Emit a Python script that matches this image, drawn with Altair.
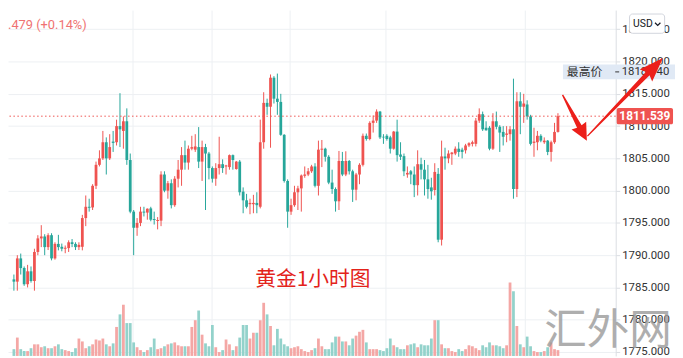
import altair as alt
import pandas as pd

# ---------------- data ----------------
opens = [1786.25, 1785.9, 1789.5, 1788.0, 1785.5, 1787.5, 1786.0, 1790.5, 1792.6, 1792.9,
         1791.25, 1793.1, 1789.5, 1791.75, 1791.3, 1791.0, 1791.1, 1792.0, 1791.75, 1791.25,
         1791.3, 1795.75, 1797.5, 1797.4, 1800.75, 1804.0, 1805.0, 1807.5, 1805.0, 1807.6,
         1807.5, 1810.0, 1809.25, 1810.75, 1804.75, 1796.75, 1794.25, 1795.0, 1796.75, 1796.6,
         1797.25, 1795.6, 1795.3, 1795.35, 1802.5, 1800.0, 1801.15, 1797.75, 1801.85, 1803.25,
         1805.5, 1804.35, 1806.5, 1806.35, 1806.75, 1804.5, 1806.75, 1805.75, 1803.5, 1801.85,
         1803.5, 1804.1, 1803.75, 1803.65, 1805.5, 1803.35, 1804.5, 1799.85, 1798.5, 1797.9,
         1797.9, 1798.1, 1797.5, 1807.5, 1813.6, 1813.0, 1817.5, 1814.25, 1813.75, 1808.65,
         1801.5, 1796.75, 1797.75, 1799.75, 1800.35, 1802.3, 1802.5, 1803.0, 1803.75, 1800.75,
         1806.35, 1806.5, 1805.25, 1801.25, 1800.25, 1798.35, 1804.6, 1802.5, 1804.6, 1803.0,
         1800.15, 1802.5, 1804.0, 1808.5, 1808.0, 1810.5, 1810.85, 1812.25, 1808.35, 1808.5,
         1808.25, 1806.5, 1809.15, 1805.6, 1805.35, 1802.5, 1803.0, 1802.5, 1800.85, 1804.1,
         1803.25, 1801.75, 1800.5, 1800.1, 1802.6, 1792.4, 1805.3, 1805.0, 1805.65, 1805.75,
         1806.5, 1806.35, 1806.25, 1807.0, 1807.25, 1807.25, 1810.85, 1811.85, 1809.75, 1809.75,
         1806.5, 1810.75, 1809.9, 1809.1, 1808.65, 1808.75, 1809.5, 1800.25, 1813.85, 1813.0,
         1813.35, 1811.5, 1807.4, 1807.5, 1808.5, 1807.5, 1807.75, 1806.0, 1807.5, 1809.1]

highs = [1787.0, 1790.0, 1790.25, 1788.25, 1788.5, 1788.25, 1791.0, 1793.1, 1794.65, 1793.25,
         1793.4, 1793.4, 1792.0, 1793.15, 1791.8, 1791.5, 1792.3, 1792.5, 1792.0, 1792.0,
         1796.25, 1799.25, 1798.75, 1801.0, 1804.5, 1806.25, 1809.25, 1808.25, 1808.75, 1809.25,
         1811.0, 1815.1, 1811.5, 1812.75, 1805.75, 1797.0, 1795.75, 1797.5, 1797.5, 1797.25,
         1797.5, 1796.75, 1795.9, 1803.0, 1803.0, 1801.5, 1801.75, 1802.25, 1804.75, 1806.75,
         1807.75, 1807.0, 1808.5, 1808.75, 1809.85, 1807.75, 1807.25, 1806.0, 1803.75, 1804.25,
         1808.35, 1804.85, 1804.0, 1805.6, 1805.6, 1804.6, 1804.75, 1800.5, 1799.5, 1798.75,
         1799.35, 1799.75, 1811.0, 1815.25, 1814.25, 1818.0, 1817.75, 1818.14, 1815.0, 1808.75,
         1801.75, 1798.75, 1800.75, 1800.75, 1802.5, 1803.75, 1803.5, 1804.0, 1804.25, 1807.75,
         1807.85, 1806.65, 1805.5, 1803.25, 1800.5, 1806.15, 1806.0, 1806.1, 1804.75, 1803.25,
         1802.75, 1804.25, 1808.85, 1808.85, 1810.75, 1811.65, 1812.6, 1812.35, 1808.75, 1808.75,
         1808.5, 1809.25, 1811.0, 1807.5, 1805.75, 1803.75, 1803.2, 1803.75, 1806.25, 1805.1,
         1804.75, 1804.0, 1802.0, 1804.25, 1803.5, 1807.75, 1806.65, 1806.25, 1806.0, 1806.85,
         1807.5, 1806.65, 1807.25, 1807.5, 1807.75, 1811.25, 1812.75, 1812.25, 1810.75, 1810.0,
         1812.0, 1812.25, 1810.15, 1810.0, 1810.0, 1810.0, 1817.35, 1815.25, 1815.25, 1815.0,
         1814.0, 1811.75, 1809.75, 1809.25, 1808.75, 1808.25, 1807.85, 1807.75, 1810.5, 1812.0]

lows = [1784.5, 1784.5, 1787.0, 1785.25, 1785.0, 1785.75, 1784.5, 1790.0, 1791.25, 1790.0,
        1790.8, 1789.2, 1789.3, 1790.75, 1790.6, 1790.3, 1790.5, 1791.25, 1790.8, 1790.8,
        1790.75, 1794.5, 1796.75, 1797.0, 1800.25, 1803.75, 1804.75, 1802.5, 1804.75, 1806.0,
        1807.0, 1806.75, 1806.5, 1804.0, 1796.5, 1790.0, 1793.0, 1794.5, 1796.0, 1795.5,
        1795.25, 1794.75, 1794.0, 1794.5, 1799.75, 1798.75, 1797.25, 1797.5, 1800.5, 1800.75,
        1803.25, 1803.25, 1806.25, 1806.0, 1803.5, 1801.5, 1797.0, 1801.75, 1801.25, 1800.75,
        1802.5, 1802.75, 1802.5, 1803.25, 1803.25, 1803.25, 1799.25, 1796.5, 1797.25, 1796.35,
        1796.5, 1796.5, 1797.25, 1806.5, 1811.75, 1806.65, 1813.5, 1811.75, 1808.5, 1801.25,
        1794.25, 1796.25, 1797.5, 1797.0, 1796.75, 1802.0, 1802.25, 1802.75, 1800.5, 1799.25,
        1803.65, 1804.5, 1801.0, 1799.5, 1796.75, 1797.0, 1802.25, 1802.25, 1802.5, 1798.25,
        1798.5, 1801.0, 1803.75, 1807.75, 1807.8, 1809.0, 1810.5, 1808.0, 1807.25, 1807.75,
        1805.75, 1806.35, 1804.5, 1804.75, 1802.25, 1802.0, 1801.0, 1799.0, 1799.25, 1801.75,
        1799.25, 1798.75, 1798.6, 1799.25, 1792.0, 1791.5, 1803.25, 1804.25, 1804.0, 1805.5,
        1805.25, 1805.0, 1805.75, 1806.75, 1806.85, 1806.85, 1810.5, 1809.25, 1809.3, 1806.25,
        1806.3, 1809.5, 1806.0, 1807.0, 1807.5, 1807.75, 1798.75, 1799.0, 1808.75, 1810.5,
        1811.0, 1807.0, 1805.25, 1806.25, 1807.5, 1807.25, 1805.5, 1804.5, 1807.25, 1809.0]

closes = [1785.9, 1789.5, 1788.0, 1785.5, 1787.5, 1786.0, 1790.5, 1792.6, 1792.9, 1791.25,
          1793.1, 1789.5, 1791.75, 1791.25, 1791.0, 1791.15, 1792.0, 1791.75, 1791.25, 1791.6,
          1795.75, 1797.5, 1797.35, 1800.75, 1804.0, 1805.0, 1807.5, 1805.0, 1806.75, 1807.4,
          1810.0, 1809.5, 1810.75, 1804.75, 1796.75, 1794.25, 1795.0, 1796.75, 1796.6, 1797.2,
          1795.5, 1795.45, 1795.45, 1802.5, 1800.0, 1801.15, 1797.75, 1801.85, 1803.25, 1805.5,
          1804.35, 1806.5, 1806.75, 1806.85, 1804.5, 1806.75, 1805.75, 1803.5, 1801.85, 1803.5,
          1804.1, 1803.5, 1803.9, 1805.5, 1804.75, 1804.5, 1799.75, 1798.5, 1797.5, 1798.1,
          1798.1, 1797.75, 1807.5, 1813.6, 1813.0, 1817.5, 1814.25, 1813.75, 1808.65, 1801.5,
          1796.75, 1797.75, 1799.75, 1800.35, 1802.35, 1802.5, 1803.0, 1803.75, 1800.75, 1806.35,
          1806.5, 1805.25, 1801.25, 1800.25, 1798.35, 1804.6, 1802.5, 1804.6, 1803.0, 1800.15,
          1802.5, 1804.0, 1808.5, 1808.0, 1810.5, 1810.85, 1812.25, 1808.25, 1808.25, 1808.0,
          1806.5, 1809.15, 1805.5, 1805.25, 1803.0, 1802.75, 1802.5, 1800.85, 1804.1, 1803.25,
          1801.75, 1800.25, 1799.9, 1802.9, 1792.4, 1805.3, 1805.0, 1805.75, 1805.9, 1806.5,
          1806.0, 1806.0, 1807.0, 1807.35, 1807.5, 1810.85, 1811.85, 1809.5, 1809.35, 1806.5,
          1810.75, 1809.9, 1809.0, 1808.35, 1808.85, 1809.5, 1800.25, 1813.85, 1813.0, 1813.5,
          1811.5, 1807.25, 1807.6, 1808.5, 1807.75, 1807.75, 1806.0, 1807.5, 1809.1, 1811.539]

volumes = [7, 19, 7, 5, 5, 8, 12, 12, 9, 10, 8, 8, 10, 12, 7, 6, 5, 4, 8, 18,
           15, 8, 10, 12, 17, 16, 18, 12, 10, 13, 30, 43, 53, 34, 34, 14, 9, 6, 4, 6,
           9, 18, 7, 8, 10, 12, 13, 14, 11, 10, 10, 10, 30, 37, 47, 22, 13, 10, 32, 9,
           4, 6, 17, 12, 6, 10, 19, 32, 32, 18, 24, 24, 37, 55, 43, 31, 11, 28, 18, 12,
           10, 8, 9, 10, 7, 5, 4, 6, 8, 18, 10, 7, 7, 14, 20, 20, 15, 15, 11, 18,
           21, 25, 27, 14, 7, 7, 7, 6, 5, 8, 18, 11, 9, 7, 7, 11, 12, 13, 9, 12,
           11, 11, 18, 37, 37, 12, 8, 8, 5, 4, 7, 5, 7, 11, 10, 8, 6, 11, 9, 14,
           11, 11, 10, 8, 11, 76, 67, 31, 12, 9, 20, 10, 5, 4, 4, 5, 9, 14, 7, 6]

price_ticks = [1775, 1780, 1785, 1790, 1795, 1800, 1805, 1810, 1815, 1820, 1825]
time_grid = [34.8, 57.9, 80.6, 108.7, 149.4]
last_price = 1811.539
high_price = 1818.140
high_label = "最高价"
top_text = ".479 (+0.14%)"
title_text = "黄金1小时图"
watermark_text = "汇外网"
currency = "USD"

# ---------------- styling ----------------
UP, DOWN = "#ef5350", "#26a69a"
UP_VOL, DOWN_VOL = "#f4a7a5", "#93d2cb"
GRID = "#edf0f3"
ARROW = "#ec1f1a"
W, H = 615, 350

df = pd.DataFrame({"i": list(range(len(closes))), "open": opens, "high": highs,
                   "low": lows, "close": closes, "vol": volumes})
up = df["close"] >= df["open"]
df["c"] = up.map({True: UP, False: DOWN})
df["vc"] = up.map({True: UP_VOL, False: DOWN_VOL})

xs = alt.Scale(domain=[-0.281, 174.44], nice=False, zero=False)
ys = alt.Scale(domain=[1774.39, 1827.98], nice=False, zero=False)
x_axis = alt.Axis(values=time_grid, labels=False, ticks=False, domain=False, grid=True,
                  gridColor=GRID, gridWidth=1, title=None, zindex=0)
y_axis = alt.Axis(orient="right", values=price_ticks, format=".3f", title=None, grid=True,
                  gridColor=GRID, domain=True, domainColor="#dadde3", ticks=True, tickSize=4,
                  tickColor="#dadde3", labelPadding=2, labelFont="Roboto", labelFontSize=11.5,
                  labelColor="#333333", labelOverlap=False, labelBound=False, labelFlush=False,
                  zindex=0)


def X(f="i"):
    return alt.X(f"{f}:Q", scale=xs, axis=x_axis)


def Y(f):
    return alt.Y(f"{f}:Q", scale=ys, axis=y_axis)


base = alt.Chart(df)
vol = base.mark_bar(size=2.8).encode(
    x=X(), y=alt.Y("vol:Q", scale=alt.Scale(domain=[0, 358], nice=False, zero=True), axis=None),
    color=alt.Color("vc:N", scale=None))
wick = base.mark_rule(strokeWidth=1).encode(
    x=X(), y=Y("low"), y2=alt.Y2("high"), color=alt.Color("c:N", scale=None))
body = base.mark_bar(size=2.8).encode(
    x=X(), y=Y("open"), y2=alt.Y2("close"), color=alt.Color("c:N", scale=None))

lp = pd.DataFrame({"p": [last_price], "top": [last_price + 1.27], "bot": [last_price - 1.27],
                   "t": [f"{last_price:.3f}"]})
last_line = alt.Chart(lp).mark_rule(color=UP, strokeDash=[1.5, 2.5], strokeWidth=1).encode(y=Y("p"))
last_box = alt.Chart(lp).mark_rect(color=UP, cornerRadius=2).encode(
    x=alt.value(616), x2=alt.value(673), y=Y("top"), y2=alt.Y2("bot"))
last_txt = alt.Chart(lp).mark_text(color="white", fontWeight="bold", fontSize=12, font="Roboto",
                                   align="center", baseline="middle").encode(
    x=alt.value(644.5), y=Y("p"), text="t:N")

hp = pd.DataFrame({"p": [high_price + 0.26], "top": [high_price + 1.41], "bot": [high_price - 0.89],
                   "t": [f"{high_price:.3f}"], "lab": [high_label]})
high_box = alt.Chart(hp).mark_rect(color="#e0e9f5").encode(
    x=alt.value(561.6), x2=alt.value(676), y=Y("top"), y2=alt.Y2("bot"))
high_lab = alt.Chart(hp).mark_text(color="#333333", fontSize=12, font="Noto Sans CJK SC",
                                   align="left", baseline="middle").encode(
    x=alt.value(565.5), y=Y("p"), text="lab:N")
high_dash = alt.Chart(hp).mark_rule(color="#333333", strokeWidth=1).encode(
    x=alt.value(614.5), x2=alt.value(618.5), y=Y("p"))
high_txt = alt.Chart(hp).mark_text(color="#333333", fontSize=11.5, font="Roboto",
                                   align="left", baseline="middle").encode(
    x=alt.value(621), y=Y("p"), text="t:N")

tt = pd.DataFrame({"i": [87.4], "p": [1786.2], "t": [title_text]})
title_mark = alt.Chart(tt).mark_text(color="#e3231b", fontSize=21, font="Noto Sans CJK SC",
                                     align="center", baseline="middle").encode(
    x=X(), y=Y("p"), text="t:N")

wm = pd.DataFrame({"i": [173.6], "p": [1778.2], "t": [watermark_text]})
wm_mark = alt.Chart(wm).mark_text(color="#9a9a9a", opacity=0.8, fontSize=43,
                                  font="Noto Sans CJK SC", align="center",
                                  baseline="middle").encode(x=X(), y=Y("p"), text="t:N")

ar1 = pd.DataFrame({"i": [163.9], "p": [1811.29]})
ar2 = pd.DataFrame({"i": [178.65], "p": [1814.51]})
path1 = "M0,-1L0.32,-0.34L0.1,-0.38L0.025,1L-0.025,1L-0.1,-0.38L-0.32,-0.34Z"
path2 = "M0,-1L0.16,-0.55L0.045,-0.6L0.012,1L-0.012,1L-0.045,-0.6L-0.16,-0.55Z"
arrow1 = alt.Chart(ar1).mark_point(shape=path1, size=2750, angle=152, filled=True, fill=ARROW,
                                   strokeWidth=0, opacity=1).encode(x=X(), y=Y("p"))
arrow2 = alt.Chart(ar2).mark_point(shape=path2, size=12100, angle=44, filled=True, fill=ARROW,
                                   strokeWidth=0, opacity=1).encode(x=X(), y=Y("p"))

one = pd.DataFrame({"t": [top_text], "u": [currency]})
top_mark = alt.Chart(one).mark_text(color="#ef7272", fontSize=13, font="Roboto", align="left",
                                    baseline="middle").encode(
    x=alt.value(0), y=alt.value(15.6), text="t:N")
usd_box = alt.Chart(one).mark_rect(fill="white", stroke="#d1d4dc", strokeWidth=1,
                                   cornerRadius=3).encode(
    x=alt.value(629), x2=alt.value(664.5), y=alt.value(4), y2=alt.value(23.5))
usd_txt = alt.Chart(one).mark_text(color="#131722", fontSize=10.5, font="Roboto", align="center",
                                   baseline="middle").encode(
    x=alt.value(642.5), y=alt.value(13.8), text="u:N")
usd_chev = alt.Chart(one).mark_point(shape="M-1,-0.5L0,0.5L1,-0.5", size=30, filled=False,
                                     stroke="#131722", strokeWidth=1.2, opacity=1).encode(
    x=alt.value(657.5), y=alt.value(14.2))

price_layers = alt.layer(
    wick, body, last_line, title_mark, high_box, high_lab, high_dash, high_txt,
    last_box, last_txt, wm_mark, arrow1, arrow2, top_mark, usd_box, usd_txt, usd_chev)

chart = alt.layer(vol, price_layers).resolve_scale(y="independent").properties(
    width=W, height=H,
    autosize=alt.AutoSizeParams(type="none"),
    padding={"left": 0, "top": 0, "right": 60, "bottom": 0},
    background="white",
).configure_view(stroke=None)

chart.save("out.html", embed_options={"renderer": "svg", "actions": False})
